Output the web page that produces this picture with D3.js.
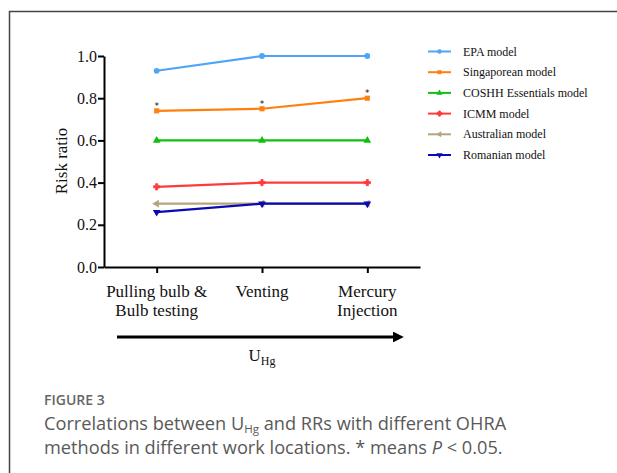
<!DOCTYPE html>
<html><head><meta charset="utf-8">
<script src="https://cdn.jsdelivr.net/npm/d3@7"></script>
<style>body{margin:0;background:#fff}svg{display:block}</style>
</head><body>
<script>
const categories = ["Pulling bulb &\nBulb testing", "Venting", "Mercury\nInjection"];
const seriesNames = ["EPA model", "Singaporean model", "COSHH Essentials model", "ICMM model", "Australian model", "Romanian model"];
const epa = [0.93, 1.0, 1.0];
const singaporean = [0.74, 0.75, 0.80];
const coshh = [0.6, 0.6, 0.6];
const icmm = [0.38, 0.40, 0.40];
const australian = [0.30, 0.30, 0.30];
const romanian = [0.26, 0.30, 0.30];
const yTicks = [0.0, 0.2, 0.4, 0.6, 0.8, 1.0];
const significant = [true, true, true]; // * above Singaporean points

const colors = ["#4ea5f5", "#ff7f0f", "#10c010", "#ff3a3a", "#b4a57c", "#0a0ab4"];
const symbols = [d3.symbolCircle, d3.symbolSquare, d3.symbolTriangle, d3.symbolCross, "triLeft", d3.symbolTriangle];
const seriesValues = [epa, singaporean, coshh, icmm, australian, romanian];
const drawOrder = [0, 1, 2, 3, 4, 5];

const W = 617, H = 473;
const svg = d3.select("body").append("svg").attr("width", W).attr("height", H);

// frame
svg.append("path").attr("d", `M9.5,${H} L9.5,11.5 L${W},11.5`).attr("fill", "none").attr("stroke", "#444").attr("stroke-width", 1.5);

const x = d3.scalePoint().domain(categories).range([104, 420]).padding(0.5);
const y = d3.scaleLinear().domain([0, 1]).range([267, 56]);

const serif = "'Liberation Serif', 'Times New Roman', serif";

// y axis
const gy = svg.append("g").attr("transform", "translate(104,0)")
  .call(d3.axisLeft(y).tickValues(yTicks).tickFormat(d3.format(".1f")).tickSize(6).tickSizeOuter(0));
gy.attr("font-family", serif);
gy.select(".domain").attr("stroke", "#000").attr("stroke-width", 2);
gy.selectAll(".tick line").attr("stroke", "#000").attr("stroke-width", 2);
gy.selectAll(".tick text").attr("font-family", serif).attr("font-size", 16).attr("fill", "#111").attr("x", -7);

// x axis
const gx = svg.append("g").attr("transform", "translate(0,267)")
  .call(d3.axisBottom(x).tickSize(6).tickSizeOuter(0).tickFormat(""));
gx.select(".domain").attr("stroke", "#000").attr("stroke-width", 2);
gx.selectAll(".tick line").attr("stroke", "#000").attr("stroke-width", 2);

// x labels
categories.forEach(c => {
  const lines = c.split("\n");
  const t = svg.append("text").attr("text-anchor", "middle").attr("font-family", serif)
    .attr("font-size", 17).attr("fill", "#111");
  lines.forEach((l, i) => t.append("tspan").attr("x", x(c)).attr("y", 297 + i * 19).text(l));
});

// y label
svg.append("text").attr("transform", "translate(67,161) rotate(-90)").attr("text-anchor", "middle")
  .attr("font-family", serif).attr("font-size", 17).attr("fill", "#111").text("Risk ratio");

// arrow
svg.append("defs").append("marker").attr("id", "ah").attr("viewBox", "0 0 10 10")
  .attr("refX", 0).attr("refY", 5).attr("markerWidth", 4.8).attr("markerHeight", 3.6)
  .attr("orient", "auto").attr("markerUnits", "strokeWidth")
  .append("path").attr("d", "M0,0 L10,5 L0,10 Z").attr("fill", "#000");
svg.append("line").attr("x1", 117).attr("x2", 393).attr("y1", 337).attr("y2", 337)
  .attr("stroke", "#000").attr("stroke-width", 3).attr("marker-end", "url(#ah)");

// U_Hg label
const ul = svg.append("text").attr("x", 262).attr("y", 361).attr("text-anchor", "middle")
  .attr("font-family", serif).attr("font-size", 17).attr("fill", "#111");
ul.append("tspan").text("U");
ul.append("tspan").attr("font-size", 12).attr("dy", 4).text("Hg");

function symPath(s, size) {
  if (s === "triLeft") return d3.symbol(d3.symbolTriangle, size)();
  return d3.symbol(s, size)();
}
function symTransform(i) {
  if (symbols[i] === "triLeft") return " rotate(-90)";
  if (i === 5) return " rotate(180)";
  return "";
}

const line = d3.line().x((d, i) => x(categories[i])).y(d => y(d));
drawOrder.forEach(i => {
  const g = svg.append("g");
  g.append("path").datum(seriesValues[i]).attr("d", line).attr("fill", "none")
    .attr("stroke", colors[i]).attr("stroke-width", 2.2);
  g.selectAll("path.m").data(seriesValues[i]).join("path").attr("class", "m")
    .attr("d", symPath(symbols[i], i === 3 ? 22 : 26))
    .attr("transform", (d, k) => `translate(${x(categories[k])},${y(d)})` + symTransform(i))
    .attr("fill", colors[i]).attr("stroke", i === 3 ? colors[i] : "none").attr("stroke-width", 0.8);
});

// significance stars
singaporean.forEach((v, k) => {
  if (!significant[k]) return;
  svg.append("text").attr("x", x(categories[k])).attr("y", y(v) - 2).attr("text-anchor", "middle")
    .attr("font-family", "'DejaVu Sans', sans-serif").attr("font-size", 9).attr("fill", "#111").text("*");
});

// legend
const lg = svg.append("g");
seriesNames.forEach((n, i) => {
  const yy = 51.5 + i * 20.7;
  lg.append("line").attr("x1", 428).attr("x2", 451).attr("y1", yy).attr("y2", yy)
    .attr("stroke", colors[i]).attr("stroke-width", 2);
  lg.append("path").attr("d", symPath(symbols[i], i === 3 ? 14 : 16))
    .attr("transform", `translate(439.5,${yy})` + symTransform(i))
    .attr("fill", colors[i]).attr("stroke", i === 3 ? colors[i] : "none");
  lg.append("text").attr("x", 463).attr("y", yy + 4).attr("font-family", serif)
    .attr("font-size", 12).attr("fill", "#111").text(n);
});

// caption
const sans = "'Open Sans', 'Noto Sans', sans-serif";
svg.append("text").attr("x", 44).attr("y", 405).attr("font-family", sans).attr("font-size", 14)
  .attr("font-weight", 600).attr("fill", "#666").text("FIGURE 3");
const c1 = svg.append("text").attr("x", 44).attr("y", 430).attr("font-family", sans).attr("font-size", 18.2)
  .attr("fill", "#595959");
c1.append("tspan").text("Correlations between U");
c1.append("tspan").attr("font-size", 11.5).attr("dy", 2.5).text("Hg");
c1.append("tspan").attr("dy", -2.5).text(" and RRs with different OHRA");
const c2 = svg.append("text").attr("x", 44).attr("y", 454).attr("font-family", sans).attr("font-size", 18.2)
  .attr("fill", "#595959");
c2.append("tspan").text("methods in different work locations. * means ");
c2.append("tspan").attr("font-style", "italic").text("P");
c2.append("tspan").text(" < 0.05.");
</script>
</body></html>
